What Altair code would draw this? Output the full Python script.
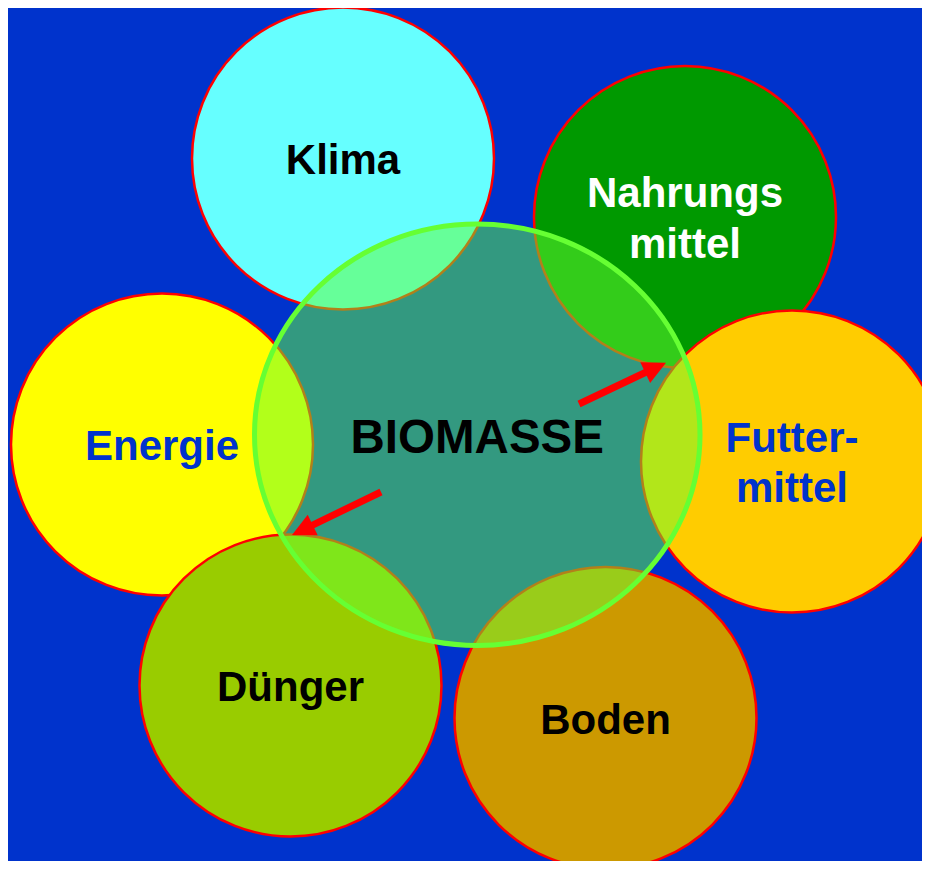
import altair as alt
import pandas as pd
import numpy as np

# ---- data ----
names = ["Klima", "Nahrungs\nmittel", "Energie", "Futter-\nmittel", "Dünger", "Boden"]
node_x = [343, 685, 162, 792, 290.5, 605.5]
node_y = [158.5, 217, 444.5, 461.5, 685.5, 718]
node_fill = ["#66FFFF", "#009900", "#FFFF00", "#FFCC00", "#99CC00", "#CC9900"]
label_color = ["#000000", "#FFFFFF", "#0033CC", "#0033CC", "#000000", "#000000"]

hub_name = "BIOMASSE"
hub_x = [477.25]
hub_y = [434.75]

arrow_from_x = [579, 381]
arrow_from_y = [404, 492]
arrow_to_x = [666, 292]
arrow_to_y = [362.7, 535]

# ---- styling / layout constants ----
BG = "#0033CC"
NODE_R = 151
HUB_RX, HUB_RY = 222.75, 210.75
HEAD = 23
LINE_H = 50.5
W, H = 914, 853

xs = alt.Scale(domain=[8, 8 + W], zero=False, nice=False)
ys = alt.Scale(domain=[8, 8 + H], zero=False, nice=False, reverse=True)
X = lambda f: alt.X(f"{f}:Q", scale=xs, axis=None)
Y = lambda f: alt.Y(f"{f}:Q", scale=ys, axis=None)

nodes = pd.DataFrame({"x": node_x, "y": node_y, "fill": node_fill})
circles = alt.Chart(nodes).mark_circle(
    size=(2 * NODE_R) ** 2, stroke="#FF0000", strokeWidth=2.5, opacity=1
).encode(x=X("x"), y=Y("y"), color=alt.Color("fill:N", scale=None))

ratio = HUB_RY / HUB_RX
ellipse_path = f"M -1 0 A 1 {ratio:.4f} 0 1 0 1 0 A 1 {ratio:.4f} 0 1 0 -1 0 Z"
hub = alt.Chart(pd.DataFrame({"x": hub_x, "y": hub_y})).mark_point(
    shape=ellipse_path, size=(2 * HUB_RX) ** 2, filled=True,
    fill="#66FF33", fillOpacity=0.5, stroke="#66FF33", strokeWidth=5,
    strokeOpacity=1, opacity=1
).encode(x=X("x"), y=Y("y"))

# arrows
shaft_rows, head_rows = [], []
for i in range(len(arrow_from_x)):
    fx, fy, tx, ty = arrow_from_x[i], arrow_from_y[i], arrow_to_x[i], arrow_to_y[i]
    dx, dy = tx - fx, ty - fy
    L = np.hypot(dx, dy)
    ux, uy = dx / L, dy / L
    shaft_rows.append({"id": i, "k": 0, "x": fx, "y": fy})
    shaft_rows.append({"id": i, "k": 1, "x": tx - ux * (HEAD - 3), "y": ty - uy * (HEAD - 3)})
    head_rows.append({"x": tx - ux * HEAD / 2, "y": ty - uy * HEAD / 2,
                      "angle": float(np.degrees(np.arctan2(dx, -dy)) % 360)})

shafts = alt.Chart(pd.DataFrame(shaft_rows)).mark_line(
    color="#FF0000", strokeWidth=7, strokeCap="butt"
).encode(x=X("x"), y=Y("y"), detail="id:N", order="k:O")

heads = alt.Chart(pd.DataFrame(head_rows)).mark_point(
    shape="M 0 -1 L -1 1 L 1 1 Z", size=HEAD ** 2, filled=True,
    fill="#FF0000", strokeWidth=0, opacity=1
).encode(x=X("x"), y=Y("y"), angle=alt.Angle("angle:Q", scale=None))

# labels
label_rows = []
for n, x, y, c in zip(names, node_x, node_y, label_color):
    lines = n.split("\n")
    if len(lines) == 1:
        label_rows.append({"t": lines[0], "x": x, "y": y + 15.5, "c": c})
    else:
        for j, ln in enumerate(lines):
            label_rows.append({"t": ln, "x": x, "y": y - 10 + j * LINE_H, "c": c})

labels = alt.Chart(pd.DataFrame(label_rows)).mark_text(
    font="Liberation Sans", fontWeight="bold", fontSize=42,
    baseline="alphabetic", align="center"
).encode(x=X("x"), y=Y("y"), text="t:N", color=alt.Color("c:N", scale=None))

hub_label = alt.Chart(pd.DataFrame({"t": [hub_name], "x": hub_x, "y": [hub_y[0] + 18]})).mark_text(
    font="Liberation Sans", fontWeight="bold", fontSize=47.5,
    baseline="alphabetic", align="center", color="#000000"
).encode(x=X("x"), y=Y("y"), text="t:N")

chart = alt.layer(circles, hub, shafts, heads, labels, hub_label).properties(
    width=W, height=H, background=BG, padding=0,
    autosize=alt.AutoSizeParams(type="none")
).configure_view(strokeWidth=0)

chart.save("out.html", embed_options={"renderer": "svg", "actions": False})
